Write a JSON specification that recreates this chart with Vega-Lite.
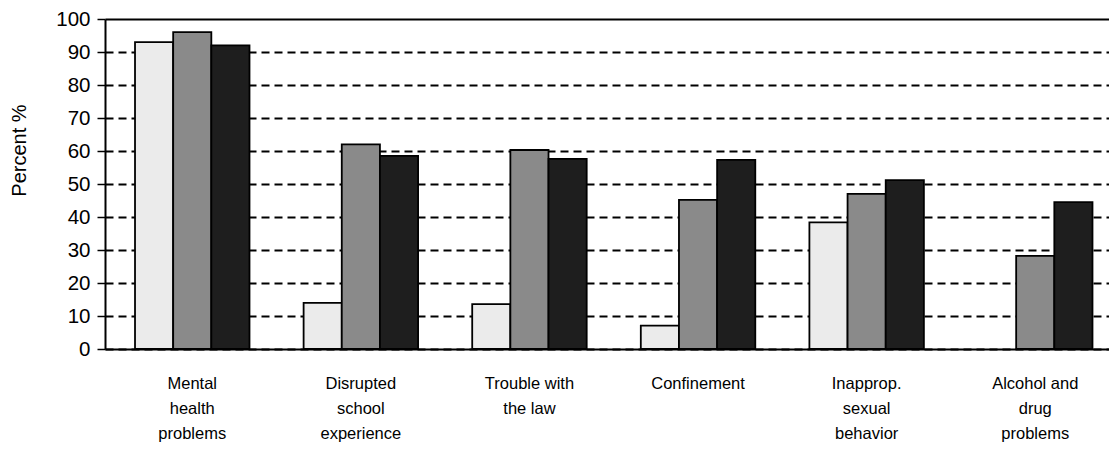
{
  "$schema": "https://vega.github.io/schema/vega-lite/v6.json",
  "autosize": "none",
  "width": 1004,
  "height": 330,
  "padding": {"left": 105, "top": 19, "right": 0, "bottom": 102},
  "background": "white",
  "config": {"view": {"stroke": null}, "font": "Liberation Sans"},
  "data": {
    "values": [
      {"problem": "Mental|health|problems", "series": "Series 1", "percent": 93},
      {"problem": "Mental|health|problems", "series": "Series 2", "percent": 96},
      {"problem": "Mental|health|problems", "series": "Series 3", "percent": 92},
      {"problem": "Disrupted|school|experience", "series": "Series 1", "percent": 14},
      {"problem": "Disrupted|school|experience", "series": "Series 2", "percent": 62},
      {"problem": "Disrupted|school|experience", "series": "Series 3", "percent": 58.5},
      {"problem": "Trouble with|the law", "series": "Series 1", "percent": 13.6},
      {"problem": "Trouble with|the law", "series": "Series 2", "percent": 60.3},
      {"problem": "Trouble with|the law", "series": "Series 3", "percent": 57.6},
      {"problem": "Confinement", "series": "Series 1", "percent": 7.1},
      {"problem": "Confinement", "series": "Series 2", "percent": 45.2},
      {"problem": "Confinement", "series": "Series 3", "percent": 57.3},
      {"problem": "Inapprop.|sexual|behavior", "series": "Series 1", "percent": 38.4},
      {"problem": "Inapprop.|sexual|behavior", "series": "Series 2", "percent": 47},
      {"problem": "Inapprop.|sexual|behavior", "series": "Series 3", "percent": 51.2},
      {"problem": "Alcohol and|drug|problems", "series": "Series 2", "percent": 28.2},
      {"problem": "Alcohol and|drug|problems", "series": "Series 3", "percent": 44.5}
    ]
  },
  "mark": {"type": "bar", "stroke": "black", "strokeWidth": 1.8},
  "encoding": {
    "x": {
      "field": "problem",
      "type": "nominal",
      "sort": null,
      "scale": {"paddingInner": 0.321, "paddingOuter": 0.138, "align": 0.645},
      "axis": {
        "title": null,
        "labelAngle": 0,
        "labelExpr": "split(datum.label, '|')",
        "labelFontSize": 16.5,
        "labelLineHeight": 25,
        "labelColor": "black",
        "labelPadding": 26,
        "labelBaseline": "top",
        "ticks": false,
        "domainColor": "black",
        "domainWidth": 2,
        "grid": false
      }
    },
    "xOffset": {
      "field": "series",
      "type": "nominal",
      "scale": {"domain": ["Series 1", "Series 2", "Series 3"], "paddingInner": 0, "paddingOuter": 0}
    },
    "y": {
      "field": "percent",
      "type": "quantitative",
      "scale": {"domain": [0, 100], "nice": false},
      "axis": {
        "title": "Percent %",
        "titleFontSize": 20,
        "titleFontWeight": "normal",
        "titleColor": "black",
        "titleX": -76,
        "titleY": 131,
        "values": [0, 10, 20, 30, 40, 50, 60, 70, 80, 90, 100],
        "labelFontSize": 20.5,
        "labelColor": "black",
        "labelPadding": 7,
        "tickSize": 8,
        "tickColor": "black",
        "tickWidth": 1.5,
        "domainColor": "black",
        "domainWidth": 2,
        "grid": true,
        "gridColor": "black",
        "gridWidth": 1.8,
        "gridOpacity": 1,
        "gridDash": {"condition": {"test": "datum.value == 100", "value": []}, "value": [8, 5]}
      }
    },
    "fill": {
      "field": "series",
      "type": "nominal",
      "scale": {"domain": ["Series 1", "Series 2", "Series 3"], "range": ["#ebebeb", "#8a8a8a", "#1e1e1e"]},
      "legend": null
    }
  }
}
